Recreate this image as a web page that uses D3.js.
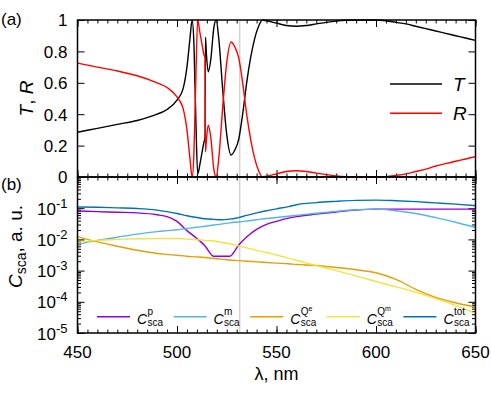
<!DOCTYPE html>
<html>
<head>
<meta charset="utf-8">
<script src="https://cdnjs.cloudflare.com/ajax/libs/d3/7.8.5/d3.min.js"></script>
<style>
    body { margin: 0; background: #fff; }
    svg { font-family: "Liberation Sans", Arial, sans-serif; }
</style>
</head>
<body>
<div id="chart"></div>
<script>
// panel (a): transmission and reflection
var lambdaTR = [450, 460, 470, 480, 490, 495, 500, 503, 505, 506.5, 507.6, 508.5, 509.5, 510.4, 511.5, 512.5, 513.5, 514.1,
    514.3, 514.8, 515.7, 517, 518.5, 519.7, 521, 523, 525, 527.2, 529, 531, 533, 535, 537, 539, 541, 543, 545, 550,
    555, 560, 565, 570, 575, 580, 585, 590, 595, 600, 605, 610, 615, 620, 625, 630, 635, 640, 645, 650];
var tValues = [0.285, 0.31, 0.335, 0.36, 0.40, 0.43, 0.49, 0.56, 0.70, 0.88, 1.0, 0.85, 0.35, 0.02, 0.08, 0.15, 0.22, 0.25,
    0.89, 0.78, 0.67, 0.75, 0.95, 1.0, 0.88, 0.55, 0.27, 0.14, 0.17, 0.24, 0.40, 0.60, 0.76, 0.88, 0.96, 1.0, 0.995, 0.98,
    0.965, 0.96, 0.965, 0.975, 0.985, 0.993, 0.998, 1.0, 1.0, 1.0, 0.995, 0.985, 0.975, 0.96, 0.945, 0.93, 0.915, 0.9, 0.885, 0.87];
var rValues = [0.725, 0.70, 0.675, 0.645, 0.60, 0.57, 0.51, 0.44, 0.30, 0.12, 0.0, 0.15, 0.65, 1.0, 0.92, 0.85, 0.78, 0.76,
    0.16, 0.24, 0.33, 0.25, 0.05, 0.0, 0.12, 0.45, 0.73, 0.86, 0.83, 0.76, 0.60, 0.40, 0.24, 0.12, 0.04, 0.0, 0.005, 0.02,
    0.035, 0.04, 0.035, 0.025, 0.015, 0.007, 0.002, 0.0, 0.0, 0.0, 0.002, 0.01, 0.02, 0.035, 0.05, 0.07, 0.085, 0.1, 0.115, 0.13];

// panel (b): scattering cross sections
var lambdaSca = [450, 460, 470, 480, 490, 495, 500, 505, 510, 514, 518.5, 522, 526.5, 531, 535, 540, 545, 550, 556, 560,
    570, 580, 590, 600, 610, 620, 630, 640, 650];
var cP = [0.0813, 0.0776, 0.0741, 0.0708, 0.0617, 0.0537, 0.038, 0.0191, 0.0107, 0.0063, 0.00288, 0.00288, 0.00288, 0.0066,
    0.012, 0.0209, 0.0302, 0.038, 0.0479, 0.0537, 0.0646, 0.0759, 0.0871, 0.0933, 0.0933, 0.0933, 0.0933, 0.0933, 0.0933];
var cM = [0.00692, 0.00933, 0.01175, 0.01479, 0.01778, 0.01905, 0.02042, 0.02239, 0.02455, 0.0263, 0.02884, 0.0309, 0.0339,
    0.0363, 0.0389, 0.0427, 0.0468, 0.0501, 0.055, 0.0589, 0.0692, 0.0794, 0.0891, 0.0933, 0.0832, 0.0676, 0.0501, 0.0355, 0.024];
var cQe = [0.0123, 0.00832, 0.00603, 0.00447, 0.00355, 0.00331, 0.00309, 0.00288, 0.00275, 0.00263, 0.00245, 0.00234, 0.00219,
    0.00209, 0.002, 0.00191, 0.00182, 0.00174, 0.00166, 0.00158, 0.00145, 0.00126, 0.00107, 0.000851, 0.000525, 0.000251,
    0.000138, 0.0000933, 0.0000676];
var cQm = [0.00813, 0.00933, 0.01, 0.01047, 0.01072, 0.01072, 0.01072, 0.01023, 0.00977, 0.00933, 0.00891, 0.00813, 0.00724,
    0.00617, 0.00537, 0.00447, 0.0038, 0.00316, 0.00251, 0.00214, 0.00145, 0.001, 0.000676, 0.000447, 0.000302, 0.0002,
    0.000126, 0.0000759, 0.0000427];
var cTot = [0.1096, 0.1072, 0.1023, 0.0977, 0.0871, 0.0776, 0.0676, 0.0575, 0.0501, 0.0457, 0.0437, 0.0427, 0.0447, 0.0501,
    0.0589, 0.0708, 0.0832, 0.0955, 0.1122, 0.1288, 0.1514, 0.166, 0.178, 0.182, 0.174, 0.162, 0.148, 0.135, 0.12];

var xTicks = [450, 500, 550, 600, 650];
var yTicksA = [0, 0.2, 0.4, 0.6, 0.8, 1];
var yTicksB = [1e-5, 1e-4, 1e-3, 1e-2, 1e-1];
var yExpB = ["-5", "-4", "-3", "-2", "-1"];
var markerLambda = 531.5;

var seriesB = [
    {sup: "p", color: "#9400d3", values: cP},
    {sup: "m", color: "#56b4e9", values: cM},
    {sup: "Qe", color: "#e69f00", values: cQe},
    {sup: "Qm", color: "#f0e442", values: cQm},
    {sup: "tot", color: "#0072b2", values: cTot}
];

var width = 491, height = 393;
var left = 77.5, right = 475.5;
var topA = 20, bottomA = 177, bottomB = 333;

var x = d3.scaleLinear().domain([450, 650]).range([left, right]);
var yA = d3.scaleLinear().domain([0, 1]).range([bottomA, topA]);
var yB = d3.scaleLog().domain([1e-5, 1]).range([bottomB, bottomA]);

var minorX = d3.range(450, 651, 5);
var minorB = [];
for (var e = -5; e < 0; e++) {
    for (var k = 2; k < 10; k++) {
        minorB.push(k * Math.pow(10, e));
    }
}

var svg = d3.select("#chart").append("svg")
    .attr("width", width)
    .attr("height", height);

function clean(g) {
    g.select(".domain").remove();
    g.selectAll("line").attr("stroke", "#000").attr("stroke-width", 1);
}

// x ticks (inward, top and bottom of both panels)
[[topA, "top"], [bottomA, "bottom"], [bottomA, "top"], [bottomB, "bottom"]].forEach(function (p) {
    var mk = p[1] == "top" ? d3.axisTop : d3.axisBottom;
    svg.append("g")
        .attr("transform", "translate(0," + p[0] + ")")
        .call(mk(x).tickValues(minorX).tickSize(-3.5).tickFormat(""))
        .call(clean);
    svg.append("g")
        .attr("transform", "translate(0," + p[0] + ")")
        .call(mk(x).tickValues(xTicks).tickSize(-7).tickFormat(""))
        .call(clean);
});

// y ticks panel a
svg.append("g")
    .attr("transform", "translate(" + left + ",0)")
    .call(d3.axisLeft(yA).tickValues(yTicksA).tickSize(-7).tickPadding(10).tickFormat(function (d) {
        return d3.format("")(d);
    }))
    .call(clean)
    .selectAll("text")
    .attr("font-family", "'Liberation Sans', Arial, sans-serif")
    .attr("font-size", 17)
    .attr("fill", "#000")
    .attr("dy", "0.35em");
svg.append("g")
    .attr("transform", "translate(" + right + ",0)")
    .call(d3.axisRight(yA).tickValues(yTicksA).tickSize(-7).tickFormat(""))
    .call(clean);

// y ticks panel b (log)
[[left, d3.axisLeft], [right, d3.axisRight]].forEach(function (p) {
    svg.append("g")
        .attr("transform", "translate(" + p[0] + ",0)")
        .call(p[1](yB).tickValues(minorB).tickSize(-3.5).tickFormat(""))
        .call(clean);
    svg.append("g")
        .attr("transform", "translate(" + p[0] + ",0)")
        .call(p[1](yB).tickValues(yTicksB).tickSize(-7).tickFormat(""))
        .call(clean);
});

var yLabB = svg.append("g").selectAll("text")
    .data(yTicksB)
    .enter().append("text")
    .attr("x", left - 10)
    .attr("y", function (d) { return yB(d) + 6.5; })
    .attr("text-anchor", "end")
    .attr("font-size", 17);
yLabB.append("tspan").text("10");
yLabB.append("tspan")
    .attr("dy", -7)
    .attr("font-size", 13)
    .text(function (d, i) { return yExpB[i]; });

// x tick labels
svg.append("g").selectAll("text")
    .data(xTicks)
    .enter().append("text")
    .attr("x", function (d) { return x(d); })
    .attr("y", bottomB + 25)
    .attr("text-anchor", "middle")
    .attr("font-size", 17)
    .text(function (d) { return d; });

// marker line
svg.append("line")
    .attr("x1", x(markerLambda)).attr("x2", x(markerLambda))
    .attr("y1", topA).attr("y2", bottomB)
    .attr("stroke", "#d3d3d3")
    .attr("stroke-width", 1.5);

// curves panel a
var lineA = function (vals) {
    return d3.line()
        .x(function (d, i) { return x(lambdaTR[i]); })
        .y(function (d) { return yA(d); })
        .curve(d3.curveMonotoneX)(vals);
};
svg.append("path").attr("d", lineA(tValues)).attr("fill", "none").attr("stroke", "#000").attr("stroke-width", 1.4);
svg.append("path").attr("d", lineA(rValues)).attr("fill", "none").attr("stroke", "#ff0000").attr("stroke-width", 1.4);

// curves panel b
var lineB = d3.line()
    .x(function (d, i) { return x(lambdaSca[i]); })
    .y(function (d) { return yB(d); })
    .curve(d3.curveMonotoneX);
svg.append("g").selectAll("path")
    .data(seriesB)
    .enter().append("path")
    .attr("d", function (d) { return lineB(d.values); })
    .attr("fill", "none")
    .attr("stroke", function (d) { return d.color; })
    .attr("stroke-width", 1.4);

// frames
svg.append("rect")
    .attr("x", left).attr("y", topA)
    .attr("width", right - left).attr("height", bottomA - topA)
    .attr("fill", "none").attr("stroke", "#000").attr("stroke-width", 1.5);
svg.append("rect")
    .attr("x", left).attr("y", bottomA)
    .attr("width", right - left).attr("height", bottomB - bottomA)
    .attr("fill", "none").attr("stroke", "#000").attr("stroke-width", 1.5);

// legend panel a
var legA = [["T", "#000", 84], ["R", "#ff0000", 113.3]];
legA.forEach(function (d) {
    svg.append("line")
        .attr("x1", 390).attr("x2", 442)
        .attr("y1", d[2]).attr("y2", d[2])
        .attr("stroke", d[1]).attr("stroke-width", 1.4);
    svg.append("text")
        .attr("x", 453).attr("y", d[2] + 6.7)
        .attr("font-size", 19)
        .attr("font-style", "italic")
        .text(d[0]);
});

// legend panel b
var legY = 316.7;
seriesB.forEach(function (d, i) {
    var x0 = 97 + i * 76.6;
    svg.append("line")
        .attr("x1", x0).attr("x2", x0 + 33)
        .attr("y1", legY).attr("y2", legY)
        .attr("stroke", d.color).attr("stroke-width", 1.4);
    var cx = x0 + 40;
    svg.append("text")
        .attr("x", cx).attr("y", legY + 7.5)
        .attr("font-size", 14)
        .attr("font-style", "italic")
        .text("C");
    var sup = svg.append("text")
        .attr("x", cx + 10.5).attr("y", legY - 1.5)
        .attr("font-size", 10);
    if (d.sup.length == 2 && d.sup[0] == "Q") {
        sup.append("tspan").text("Q");
        sup.append("tspan").attr("dy", -4).attr("font-size", 7).text(d.sup[1]);
    } else {
        sup.text(d.sup);
    }
    svg.append("text")
        .attr("x", cx + 10.5).attr("y", legY + 9.5)
        .attr("font-size", 10)
        .text("sca");
});

// panel labels
svg.append("text").attr("x", 1).attr("y", 25).attr("font-size", 17).text("(a)");
svg.append("text").attr("x", 1).attr("y", 190).attr("font-size", 17).text("(b)");

// axis titles
var tr = svg.append("text")
    .attr("transform", "translate(33," + (topA + bottomA) / 2 + ") rotate(-90)")
    .attr("text-anchor", "middle")
    .attr("font-size", 19);
tr.append("tspan").attr("font-style", "italic").text("T");
tr.append("tspan").text(", ");
tr.append("tspan").attr("font-style", "italic").text("R");

var cs = svg.append("text")
    .attr("transform", "translate(22,246.5) rotate(-90)")
    .attr("text-anchor", "middle")
    .attr("font-size", 19);
cs.append("tspan").attr("font-style", "italic").text("C");
cs.append("tspan").attr("dy", 4).attr("font-size", 14).text("sca");
cs.append("tspan").attr("dy", -4).text(", a. u.");

svg.append("text")
    .attr("x", (left + right) / 2)
    .attr("y", 379.5)
    .attr("text-anchor", "middle")
    .attr("font-size", 18)
    .text("λ, nm");
</script>
</body>
</html>
